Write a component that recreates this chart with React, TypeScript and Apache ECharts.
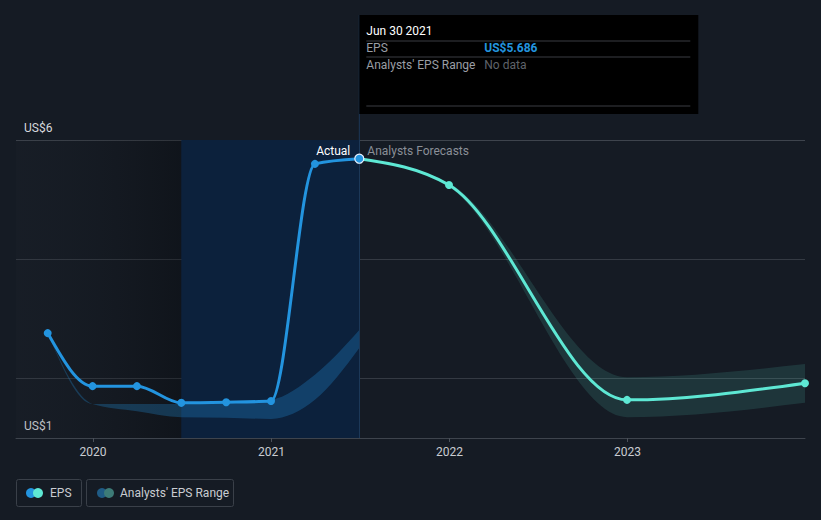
import React, { useEffect, useRef } from 'react';
import * as echarts from 'echarts';

// ---- data ----
const actualDates = ['2019-09-30', '2019-12-31', '2020-03-31', '2020-06-30', '2020-09-30', '2020-12-31', '2021-03-31', '2021-06-30'];
const actualEps = [2.76, 1.87, 1.87, 1.59, 1.6, 1.62, 5.6, 5.686];

const histRangeDates = ['2019-09-30', '2019-12-31', '2020-03-31', '2020-06-30', '2020-09-30', '2020-12-31', '2021-03-31', '2021-06-30'];
const histRangeLow = [2.76, 1.57, 1.45, 1.35, 1.34, 1.32, 1.64, 2.51];
const histRangeHigh = [2.76, 1.57, 1.57, 1.57, 1.59, 1.64, 2.06, 2.81];

const forecastDates = ['2021-06-30', '2021-12-31', '2022-12-31', '2023-12-31'];
const forecastEps = [5.686, 5.245, 1.64, 1.92];
const forecastLow = [5.686, 5.21, 1.35, 1.59];
const forecastHigh = [5.686, 5.28, 2.02, 2.24];

const yTickLabels: Record<number, string> = { 1: 'US$1', 6: 'US$6' };
const xMin = '2019-07-27';
const xMax = '2023-12-31';
const pastYearStart = '2020-06-30';
const hoverDate = '2021-06-30';
const hoverTitle = 'Jun 30 2021';
const hoverEps = 'US$5.686';

const BG = '#151b24';
const BLUE = '#2394df';
const TEAL = '#5ee8d4';
const FONT = 'Roboto, "Noto Sans", sans-serif';

const ts = (s: string) => {
  const [y, m, d] = s.split('-').map(Number);
  return new Date(y, m - 1, d).getTime();
};
const pairs = (d: string[], v: number[]) => d.map((x, i) => [ts(x), v[i]]);

// monotone-x cubic curve (rendering only, through the given pixel points)
type P = number[];
function monoSlopes(p: P[]): number[] {
  const n = p.length;
  const t = new Array(n).fill(0);
  if (n < 2) return t;
  const sec = (a: P, b: P) => (b[1] - a[1]) / (b[0] - a[0] || 1e-9);
  if (n === 2) {
    const s = sec(p[0], p[1]);
    return [s, s];
  }
  for (let i = 1; i < n - 1; i++) {
    const h0 = p[i][0] - p[i - 1][0];
    const h1 = p[i + 1][0] - p[i][0];
    const s0 = sec(p[i - 1], p[i]);
    const s1 = sec(p[i], p[i + 1]);
    const pp = (s0 * h1 + s1 * h0) / (h0 + h1);
    t[i] = (Math.sign(s0) + Math.sign(s1)) * Math.min(Math.abs(s0), Math.abs(s1), 0.5 * Math.abs(pp)) || 0;
  }
  t[0] = (3 * sec(p[0], p[1]) - t[1]) / 2;
  t[n - 1] = (3 * sec(p[n - 2], p[n - 1]) - t[n - 2]) / 2;
  return t;
}
function monoCommands(p: P[]): string {
  const t = monoSlopes(p);
  let s = '';
  for (let i = 0; i < p.length - 1; i++) {
    const [x0, y0] = p[i];
    const [x1, y1] = p[i + 1];
    const dx = (x1 - x0) / 3;
    s += ` C${x0 + dx},${y0 + dx * t[i]} ${x1 - dx},${y1 - dx * t[i + 1]} ${x1},${y1}`;
  }
  return s;
}
function linePath(p: P[]): string {
  return `M${p[0][0]},${p[0][1]}` + monoCommands(p);
}
function bandPath(up: P[], lo: P[]): string {
  const rev = lo.slice().reverse();
  return `M${up[0][0]},${up[0][1]}` + monoCommands(up) + ` L${rev[0][0]},${rev[0][1]}` + monoCommands(rev) + ' Z';
}

function curveSeries(dates: string[], vals: number[], color: string, z: number) {
  const data = pairs(dates, vals);
  return {
    type: 'custom',
    data,
    encode: { x: 0, y: 1 },
    silent: true,
    z,
    renderItem: (params: any, api: any) => {
      if (params.dataIndex !== 0) return null;
      const pts = data.map((d) => api.coord(d));
      return {
        type: 'path',
        shape: { pathData: linePath(pts) },
        style: { fill: 'none', stroke: color, lineWidth: 3, lineCap: 'round', lineJoin: 'round' },
      };
    },
  };
}

function bandSeries(dates: string[], lo: number[], hi: number[], fill: string, z: number) {
  const loData = pairs(dates, lo);
  const hiData = pairs(dates, hi);
  return {
    type: 'custom',
    data: hiData.concat(loData),
    encode: { x: 0, y: 1 },
    silent: true,
    z,
    renderItem: (params: any, api: any) => {
      if (params.dataIndex !== 0) return null;
      const up = hiData.map((d) => api.coord(d));
      const dn = loData.map((d) => api.coord(d));
      return {
        type: 'path',
        shape: { pathData: bandPath(up, dn) },
        style: { fill, stroke: 'none' },
      };
    },
  };
}

export default function App() {
  const ref = useRef<HTMLDivElement>(null);

  useEffect(() => {
    if (!ref.current) return;
    const chart = echarts.init(ref.current, null, { renderer: 'svg' });

    const actualDots: any[] = pairs(actualDates, actualEps).map((p, i, arr) =>
      i === arr.length - 1
        ? { value: p, symbolSize: 9, itemStyle: { color: BLUE, borderColor: '#e8f2ff', borderWidth: 1.2 } }
        : p
    );
    const forecastDots: any[] = pairs(forecastDates, forecastEps).slice(1);

    const option: any = {
      animation: false,
      backgroundColor: BG,
      textStyle: { fontFamily: FONT },
      grid: { left: 16, right: 16, top: 140, bottom: 82 },
      xAxis: {
        type: 'time',
        min: ts(xMin),
        max: ts(xMax),
        minInterval: 365 * 24 * 3600 * 1000,
        splitNumber: 4,
        axisLine: { lineStyle: { color: '#3e444d', width: 1 } },
        axisTick: { show: true, length: 4, lineStyle: { color: '#4a5059' } },
        splitLine: { show: false },
        axisLabel: {
          color: '#c9ccd1',
          fontSize: 12,
          fontFamily: FONT,
          margin: 8,
          formatter: (v: number) => {
            const d = new Date(v);
            return d.getMonth() === 0 && d.getDate() === 1 ? String(d.getFullYear()) : '';
          },
        },
      },
      yAxis: {
        type: 'value',
        min: 1,
        max: 6,
        interval: 1,
        axisLine: { show: false },
        axisTick: { show: false },
        splitLine: {
          show: true,
          lineStyle: {
            color: ['#3e444d', '#343a43', 'rgba(0,0,0,0)', '#343a43', 'rgba(0,0,0,0)', '#3e444d'],
            width: 1,
          },
        },
        axisLabel: {
          inside: true,
          margin: 8,
          color: '#d5d8dc',
          fontSize: 12,
          fontFamily: FONT,
          verticalAlign: 'bottom',
          padding: [0, 0, 6, 0],
          formatter: (v: number) => yTickLabels[v] || '',
        },
        z: 0,
      },
      series: [
        {
          type: 'line',
          name: 'regions',
          data: pairs(actualDates, actualEps),
          symbol: 'none',
          lineStyle: { opacity: 0, width: 0 },
          silent: true,
          z: 0,
          markArea: {
            silent: true,
            data: [
              [
                {
                  xAxis: ts(xMin),
                  itemStyle: {
                    color: new echarts.graphic.LinearGradient(0, 0, 1, 0, [
                      { offset: 0, color: 'rgba(40,44,52,0.12)' },
                      { offset: 1, color: 'rgba(0,0,0,0.25)' },
                    ]),
                  },
                },
                { xAxis: ts(pastYearStart) },
              ],
              [{ xAxis: ts(pastYearStart), itemStyle: { color: '#0c213c' } }, { xAxis: ts(hoverDate) }],
            ],
          },
          markLine: {
            silent: true,
            symbol: 'none',
            label: { show: false },
            lineStyle: { color: '#1c3858', width: 1, type: 'solid' },
            data: [{ xAxis: ts(hoverDate) }],
          },
        },
        bandSeries(histRangeDates, histRangeLow, histRangeHigh, 'rgba(35,148,223,0.28)', 2),
        bandSeries(forecastDates, forecastLow, forecastHigh, 'rgba(94,232,212,0.13)', 2),
        curveSeries(forecastDates, forecastEps, TEAL, 4),
        curveSeries(actualDates, actualEps, BLUE, 5),
        {
          type: 'scatter',
          name: 'ForecastDots',
          data: forecastDots,
          symbol: 'circle',
          symbolSize: 8,
          itemStyle: { color: TEAL, opacity: 1 },
          silent: true,
          z: 6,
        },
        {
          type: 'scatter',
          name: 'EPS',
          data: actualDots,
          symbol: 'circle',
          symbolSize: 8,
          itemStyle: { color: BLUE, opacity: 1 },
          silent: true,
          z: 7,
        },
      ],
    };

    chart.setOption(option);

    const [hx, topY] = chart.convertToPixel({ xAxisIndex: 0, yAxisIndex: 0 }, [ts(hoverDate), 6]) as number[];
    const tipX = hx;
    const tipY = 15;
    const tipW = 339;
    const tipH = 99;

    const legendText = { fill: '#c9ccd1', fontSize: 12, fontFamily: FONT };

    chart.setOption({
      graphic: [
        { type: 'line', shape: { x1: hx, y1: tipY, x2: hx, y2: topY }, style: { stroke: '#1c3858', lineWidth: 1 }, z: 1 },
        { type: 'text', x: hx - 9, y: topY + 11, style: { text: 'Actual', fill: '#ffffff', fontSize: 12, fontFamily: FONT, align: 'right', verticalAlign: 'middle' }, z: 10 },
        { type: 'text', x: hx + 8, y: topY + 11, style: { text: 'Analysts Forecasts', fill: '#8a8f97', fontSize: 12, fontFamily: FONT, align: 'left', verticalAlign: 'middle' }, z: 10 },
        { type: 'rect', shape: { x: tipX, y: tipY, width: tipW, height: tipH }, style: { fill: '#000000' }, z: 20 },
        { type: 'text', x: tipX + 7, y: tipY + 16, style: { text: hoverTitle, fill: '#ffffff', fontSize: 12, fontFamily: FONT, verticalAlign: 'middle' }, z: 21 },
        { type: 'line', shape: { x1: tipX + 7, y1: tipY + 26, x2: tipX + 331, y2: tipY + 26 }, style: { stroke: '#3a3d42', lineWidth: 1 }, z: 21 },
        { type: 'text', x: tipX + 7, y: tipY + 33, style: { text: 'EPS', fill: '#9a9ea5', fontSize: 12, fontFamily: FONT, verticalAlign: 'middle' }, z: 21 },
        { type: 'text', x: tipX + 125, y: tipY + 33, style: { text: hoverEps, fill: BLUE, fontSize: 12, fontWeight: 'bold', fontFamily: FONT, verticalAlign: 'middle' }, z: 21 },
        { type: 'line', shape: { x1: tipX + 7, y1: tipY + 42, x2: tipX + 331, y2: tipY + 42 }, style: { stroke: '#3a3d42', lineWidth: 1 }, z: 21 },
        { type: 'text', x: tipX + 7, y: tipY + 50, style: { text: "Analysts' EPS Range", fill: '#9a9ea5', fontSize: 12, fontFamily: FONT, verticalAlign: 'middle' }, z: 21 },
        { type: 'text', x: tipX + 125, y: tipY + 50, style: { text: 'No data', fill: '#5f636a', fontSize: 12, fontFamily: FONT, verticalAlign: 'middle' }, z: 21 },
        { type: 'line', shape: { x1: tipX + 7, y1: tipY + 91, x2: tipX + 331, y2: tipY + 91 }, style: { stroke: '#3a3d42', lineWidth: 1 }, z: 21 },
        { type: 'rect', shape: { x: 16.5, y: 479.5, width: 65, height: 27, r: 2 }, style: { fill: 'none', stroke: '#3a4049', lineWidth: 1 }, z: 10 },
        { type: 'circle', shape: { cx: 31, cy: 493, r: 5 }, style: { fill: BLUE }, z: 11 },
        { type: 'circle', shape: { cx: 38, cy: 493, r: 5 }, style: { fill: TEAL }, z: 12 },
        { type: 'text', x: 50, y: 493, style: { text: 'EPS', ...legendText, verticalAlign: 'middle' }, z: 11 },
        { type: 'rect', shape: { x: 86.5, y: 479.5, width: 147, height: 27, r: 2 }, style: { fill: 'none', stroke: '#3a4049', lineWidth: 1 }, z: 10 },
        { type: 'circle', shape: { cx: 102, cy: 493, r: 5 }, style: { fill: '#1f5b85' }, z: 11 },
        { type: 'circle', shape: { cx: 109, cy: 493, r: 5 }, style: { fill: '#3d7b77' }, z: 12 },
        { type: 'text', x: 120, y: 493, style: { text: "Analysts' EPS Range", ...legendText, verticalAlign: 'middle' }, z: 11 },
      ],
    });

    return () => chart.dispose();
  }, []);

  return <div ref={ref} style={{ width: 821, height: 520, position: 'absolute', left: 0, top: 0 }} />;
}
